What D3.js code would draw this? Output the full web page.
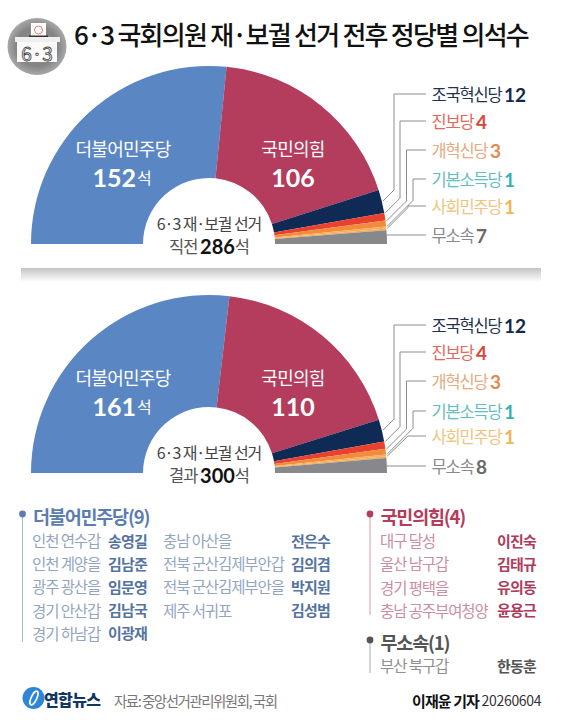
<!DOCTYPE html>
<html>
<head>
<meta charset="utf-8">
<script src="https://cdn.jsdelivr.net/npm/d3@7"></script>
<style>
  body { margin: 0; background: #fff; }
  text { font-family: "Noto Sans CJK KR", "Noto Sans", sans-serif; }
</style>
</head>
<body>
<div id="chart"></div>
<script>
// data
var parties = ["더불어민주당", "국민의힘", "조국혁신당", "진보당", "개혁신당", "기본소득당", "사회민주당", "무소속"];
var seatsBefore = [152, 106, 12, 4, 3, 1, 1, 7];
var seatsAfter = [161, 110, 12, 4, 3, 1, 1, 8];
var totalBefore = 286;
var totalAfter = 300;

var demDistricts = ["인천 연수갑", "인천 계양을", "광주 광산을", "경기 안산갑", "경기 하남갑", "충남 아산을", "전북 군산김제부안갑", "전북 군산김제부안을", "제주 서귀포"];
var demWinners = ["송영길", "김남준", "임문영", "김남국", "이광재", "전은수", "김의겸", "박지원", "김성범"];
var pppDistricts = ["대구 달성", "울산 남구갑", "경기 평택을", "충남 공주부여청양"];
var pppWinners = ["이진숙", "김태규", "유의동", "윤용근"];
var indDistricts = ["부산 북구갑"];
var indWinners = ["한동훈"];

// styles
var sliceColors = ["#5a86c3", "#b43c5c", "#0f2b55", "#e8412f", "#f28b3d", "#f4ae58", "#f4ae58", "#87888c"];
var labelColors = [null, null, "#1f3350", "#e2665a", "#e8aa80", "#62bdc0", "#f0c47e", "#8a8a8a"];
var numberColors = [null, null, "#14294a", "#d9473a", "#e08a50", "#35b3b0", "#f0b650", "#6a6a6a"];

var width = 562, height = 720;
var cx = 209, R = 178, r = 66;
var tipFrac = [0, 0, 0.5, 0.03, 0.08, 0, 0, 0.5];
var elbowX = [0, 0, 394, 400, 406.5, 413, 408, 0];

var svg = d3.select("#chart").append("svg")
  .attr("width", width)
  .attr("height", height)
  .style("display", "block");

var defs = svg.append("defs");
var shade = defs.append("linearGradient").attr("id", "shade").attr("x1", 0).attr("x2", 0).attr("y1", 0).attr("y2", 1);
shade.append("stop").attr("offset", "0%").attr("stop-color", "#c4c4c4");
shade.append("stop").attr("offset", "100%").attr("stop-color", "#ffffff");
var blob = defs.append("radialGradient").attr("id", "blob");
blob.append("stop").attr("offset", "70%").attr("stop-color", "#858585");
blob.append("stop").attr("offset", "100%").attr("stop-color", "#a8a8a8");

function label(sel, x, y, str, size, color, weight, anchor, spacing) {
  return sel.append("text")
    .attr("x", x).attr("y", y)
    .attr("text-anchor", anchor || "start")
    .attr("dominant-baseline", "central")
    .attr("font-size", size)
    .attr("font-weight", weight || 400)
    .attr("fill", color)
    .attr("letter-spacing", spacing || 0)
    .text(str);
}

// emblem
var icon = svg.append("g");
icon.append("ellipse").attr("cx", 37).attr("cy", 46.5).attr("rx", 29.5).attr("ry", 28.5).attr("fill", "url(#blob)");
icon.append("rect").attr("x", 31).attr("y", 23).attr("width", 15).attr("height", 15).attr("fill", "#fff");
icon.append("circle").attr("cx", 38.5).attr("cy", 30).attr("r", 4).attr("fill", "none").attr("stroke", "#d0705f").attr("stroke-width", 0.9);
icon.append("rect").attr("x", 29).attr("y", 35.5).attr("width", 19).attr("height", 1.5).attr("fill", "#333");
icon.append("rect").attr("x", 15).attr("y", 37).attr("width", 45).attr("height", 5).attr("fill", "#efefef");
icon.append("rect").attr("x", 17).attr("y", 42).attr("width", 40).attr("height", 20).attr("fill", "#fafafa");
icon.append("text").attr("x", 37).attr("y", 52.5).attr("text-anchor", "middle").attr("dominant-baseline", "central")
  .attr("font-size", 19).attr("font-weight", 400).attr("fill", "#fafafa").attr("stroke", "#444").attr("stroke-width", 0.8).text("6·3");

// title
label(svg, 74, 33, "6·3 국회의원 재·보궐 선거 전후 정당별 의석수", 26, "#111", 500, "start", -1.75);

// divider
svg.append("rect").attr("x", 21).attr("y", 268).attr("width", 520).attr("height", 14).attr("fill", "url(#shade)");

var pie = d3.pie().sort(null).startAngle(-Math.PI / 2).endAngle(Math.PI / 2);
var arc = d3.arc().innerRadius(r).outerRadius(R);

function hemicycle(seats, baseY, labelYs, caption, total) {
  var g = svg.append("g").attr("transform", "translate(" + cx + "," + baseY + ")");
  var arcs = pie(seats);

  g.selectAll("path.slice")
    .data(arcs)
    .enter()
    .append("path")
    .attr("class", "slice")
    .attr("d", arc)
    .attr("fill", function(d, i) { return sliceColors[i]; });

  // leader lines
  arcs.forEach(function(d, i) {
    if (i < 2) return;
    var a = d.startAngle + (d.endAngle - d.startAngle) * tipFrac[i];
    var tx = (R + 1) * Math.sin(a), ty = -(R + 1) * Math.cos(a);
    var ly = labelYs[i] - baseY, pts;
    if (elbowX[i]) {
      var ex = elbowX[i] - cx;
      var ey = ty - (ex - tx);
      pts = [[426 - cx, ly], [ex, ly], [ex, Math.max(ey, ly)], [tx, ty]];
    } else {
      pts = [[426 - cx, ly], [Math.sqrt(R * R - ly * ly), ly]];
    }
    g.append("path")
      .attr("d", d3.line()(pts))
      .attr("fill", "none")
      .attr("stroke", "#8c8c8c")
      .attr("stroke-width", 1);

    var t = label(svg, 431.5, labelYs[i], parties[i] + " ", 16.5, labelColors[i], 400, "start", -1.2);
    t.append("tspan")
      .attr("font-family", "Lato")
      .attr("font-size", 19)
      .attr("font-weight", 700)
      .attr("letter-spacing", 0)
      .attr("fill", numberColors[i])
      .text(seats[i]);
  });

  // big labels
  label(svg, 123, baseY - 96, parties[0], 18, "#fff", 400, "middle", -0.7);
  label(svg, 293, baseY - 96, parties[1], 18, "#fff", 400, "middle", -0.7);
  var n = label(svg, 122, baseY - 67, "", 25, "#fff", 700, "middle");
  n.append("tspan").attr("font-family", "Lato").text(seats[0]);
  n.append("tspan").attr("font-size", 16).attr("font-weight", 400).attr("dx", 1).text("석");
  label(svg, 293, baseY - 67, "", 25, "#fff", 700, "middle").append("tspan").attr("font-family", "Lato").text(seats[1]);

  // centre caption
  label(svg, cx, baseY - 21, "6·3 재·보궐 선거", 16, "#444", 400, "middle", -1.1);
  var c = label(svg, cx, baseY + 2, caption + " ", 16.5, "#555", 400, "middle", -1);
  c.append("tspan").attr("font-family", "Lato").attr("font-size", 20).attr("font-weight", 700).attr("letter-spacing", 0).attr("fill", "#111").text(total);
  c.append("tspan").text("석");
}

hemicycle(seatsBefore, 244, [0, 0, 94, 121, 150, 179, 206, 235], "직전", totalBefore);
hemicycle(seatsAfter, 473, [0, 0, 325, 352, 381, 411, 436, 466], "결과", totalAfter);

// district lists
function listHeader(x, y, lineEnd, str, color, lineColor) {
  svg.append("line").attr("x1", x).attr("x2", x).attr("y1", y).attr("y2", lineEnd).attr("stroke", lineColor).attr("stroke-width", 1);
  svg.append("circle").attr("cx", x).attr("cy", y).attr("r", 3.4).attr("fill", color);
  label(svg, x + 10.5, y + 1.5, str, 18.5, color, 700, "start", -1.2);
}
function listRows(districts, winners, x, nameX, y0, step, regionColor, nameColor) {
  var y = d3.scaleLinear().domain([0, 1]).range([y0, y0 + step]);
  districts.forEach(function(d, i) {
    label(svg, x, y(i), d, 15.5, regionColor, 400, "start", -1.1);
    label(svg, nameX, y(i), winners[i], 15, nameColor, 700, "start", -0.8);
  });
}

listHeader(22.5, 514, 642, "더불어민주당(9)", "#5b7db0", "#a9bbd6");
listRows(demDistricts.slice(0, 5), demWinners.slice(0, 5), 32, 108, 540, 23.2, "#93a5c0", "#54749f");
listRows(demDistricts.slice(5), demWinners.slice(5), 163, 291, 540, 23.2, "#93a5c0", "#54749f");

listHeader(370, 514, 615, "국민의힘(4)", "#b43c5c", "#d79aac");
listRows(pppDistricts, pppWinners, 380, 497, 540, 23.3, "#cc8ea1", "#ad3c5c");

listHeader(370, 640, 673, "무소속(1)", "#555", "#aaa");
listRows(indDistricts, indWinners, 380, 497, 665, 23, "#8f8f8f", "#555");

// footer
var logo = svg.append("g");
logo.append("ellipse").attr("cx", 33.5).attr("cy", 698).attr("rx", 11).attr("ry", 11).attr("fill", "#2f86d6");
logo.append("ellipse").attr("cx", 34).attr("cy", 698).attr("rx", 2.8).attr("ry", 7.5).attr("fill", "none").attr("stroke", "#fff").attr("stroke-width", 1.6).attr("transform", "rotate(25 34 698)");
label(svg, 44, 699, "연합뉴스", 16, "#123763", 900, "start", -0.6);
label(svg, 114, 700, "자료: 중앙선거관리위원회, 국회", 14.5, "#777", 400, "start", -1.5);
var credit = label(svg, 412, 700, "이재윤 기자 ", 15, "#111", 700, "start", -0.9);
credit.append("tspan").attr("font-weight", 400).attr("fill", "#333").attr("letter-spacing", -0.3).attr("font-size", 14).text("20260604");
</script>
</body>
</html>
